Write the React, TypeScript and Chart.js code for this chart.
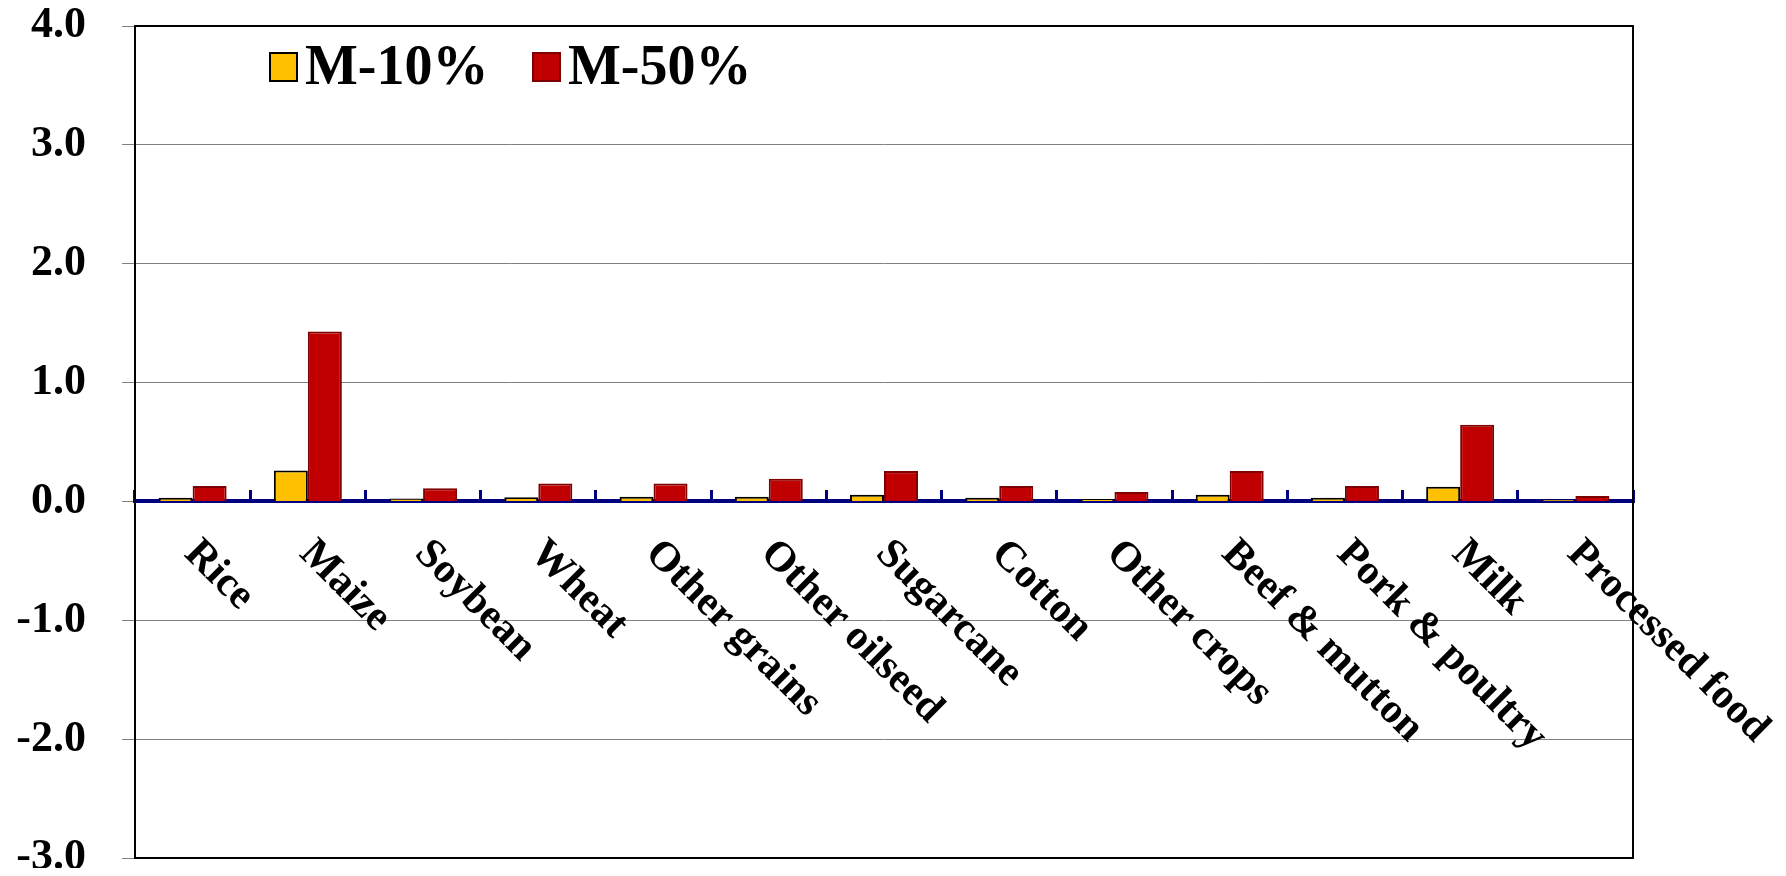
import React, { useEffect, useRef } from "react";
import { Chart, registerables } from "chart.js";

Chart.register(...registerables);

const categories = [
  "Rice",
  "Maize",
  "Soybean",
  "Wheat",
  "Other grains",
  "Other oilseed",
  "Sugarcane",
  "Cotton",
  "Other crops",
  "Beef & mutton",
  "Pork & poultry",
  "Milk",
  "Processed food",
];
const seriesNames = ["M-10%", "M-50%"];
const m10Values = [0.03, 0.26, 0.025, 0.036, 0.04, 0.04, 0.056, 0.03, 0.02, 0.056, 0.03, 0.123, 0.016];
const m50Values = [0.13, 1.43, 0.11, 0.15, 0.15, 0.19, 0.255, 0.13, 0.08, 0.255, 0.13, 0.645, 0.045];
const yMin = -3;
const yMax = 4;
const yStep = 1;

const FONT = '"Liberation Serif", "Times New Roman", serif';

const overlayPlugin = {
  id: "overlay",
  afterDraw(chart: any) {
    const { ctx, chartArea, scales } = chart;
    ctx.save();
    // plot border
    ctx.strokeStyle = "#000000";
    ctx.lineWidth = 2;
    ctx.strokeRect(
      chartArea.left,
      chartArea.top,
      chartArea.right - chartArea.left,
      chartArea.bottom - chartArea.top
    );
    // rotated category labels
    const xs = scales.x;
    const ys = scales.y;
    const y0 = ys.getPixelForValue(0);
    ctx.fillStyle = "#000000";
    ctx.font = `bold 42px ${FONT}`;
    ctx.textAlign = "left";
    ctx.textBaseline = "top";
    categories.forEach((c, i) => {
      const px = xs.getPixelForValue(i);
      ctx.save();
      ctx.translate(px + 13, y0 + 31);
      ctx.rotate(Math.PI / 4);
      ctx.fillText(c, 0, 0);
      ctx.restore();
    });
    // legend
    const ds = chart.data.datasets;
    const lx = [chartArea.left + 135, chartArea.left + 398];
    ctx.font = `bold 56px ${FONT}`;
    ctx.textBaseline = "alphabetic";
    ds.forEach((d: any, i: number) => {
      const bx = lx[i];
      const by = chartArea.top + 27;
      ctx.fillStyle = d.backgroundColor;
      ctx.fillRect(bx, by, 27, 28);
      ctx.strokeStyle = d.borderColor;
      ctx.lineWidth = 2;
      ctx.strokeRect(bx, by, 27, 28);
      ctx.fillStyle = "#000000";
      ctx.fillText(d.label, bx + 35, chartArea.top + 58);
    });
    ctx.restore();
  },
};

export default function App() {
  const canvasRef = useRef<HTMLCanvasElement | null>(null);

  useEffect(() => {
    if (!canvasRef.current) return;
    Chart.defaults.font.family = FONT;
    const chart = new Chart(canvasRef.current, {
      type: "bar",
      data: {
        labels: categories,
        datasets: [
          {
            label: seriesNames[0],
            data: m10Values,
            backgroundColor: "#FFC000",
            borderColor: "#000000",
            borderWidth: 2,
          },
          {
            label: seriesNames[1],
            data: m50Values,
            backgroundColor: "#C00000",
            borderColor: "#7F0000",
            borderWidth: 2,
          },
        ],
      },
      options: {
        animation: false,
        responsive: true,
        maintainAspectRatio: false,
        layout: { padding: { top: 18, right: 145, bottom: 18, left: 0 } },
        datasets: {
          bar: { categoryPercentage: 0.59, barPercentage: 1.0 },
        },
        plugins: {
          legend: { display: false },
          tooltip: { enabled: false },
          title: { display: false },
        },
        scales: {
          x: {
            type: "category",
            position: { y: 0 } as any,
            ticks: { display: false },
            grid: {
              display: true,
              drawOnChartArea: false,
              drawTicks: true,
              tickLength: -13,
              color: "#000080",
              lineWidth: 3,
            },
            border: { display: true, color: "#000080", width: 4 },
          },
          y: {
            min: yMin,
            max: yMax,
            afterFit: (scale: any) => {
              scale.width = 127;
              scale.paddingTop = 0;
              scale.paddingBottom = 0;
            },
            ticks: {
              stepSize: yStep,
              color: "#000000",
              padding: 36,
              font: { family: FONT, size: 44, weight: "bold", lineHeight: 0.4 },
              callback: (v: any) => Number(v).toFixed(1),
            },
            grid: {
              color: (c: any) => (c.tick && c.tick.value === 0 ? "rgba(0,0,0,0)" : "#808080"),
              tickColor: "#808080",
              tickLength: 13,
              lineWidth: 1,
            },
            border: { display: true, color: "#000000", width: 2 },
          },
        },
      },
      plugins: [overlayPlugin],
    });
    return () => chart.destroy();
  }, []);

  return (
    <div style={{ position: "relative", width: "1770px", height: "868px", marginBottom: "-8px" }}>
      <canvas ref={canvasRef} />
    </div>
  );
}
